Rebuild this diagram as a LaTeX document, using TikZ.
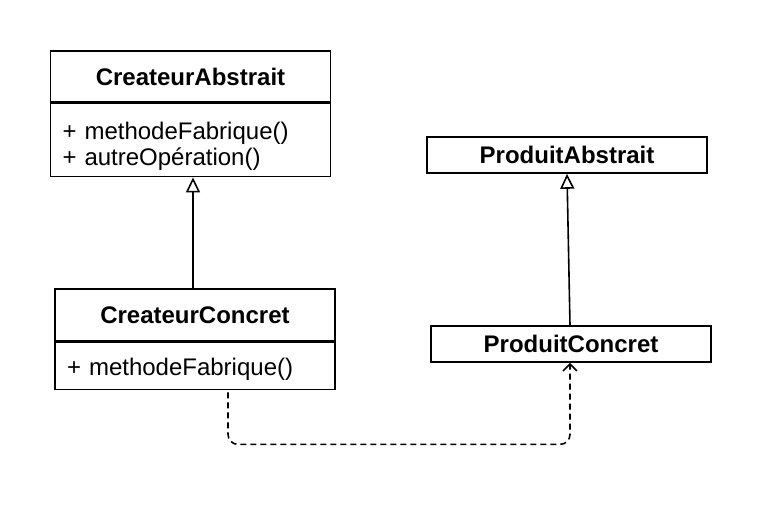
\documentclass[tikz,border=0pt]{standalone}
\usepackage{fontspec}
\setmainfont{Liberation Sans}
\usetikzlibrary{arrows.meta, positioning}
\newcommand{\lift}[1]{\rule{0pt}{#1}}

\begin{document}
\begin{tikzpicture}[x=1pt, y=-1pt,
    font=\fontsize{24}{26}\selectfont,
    every node/.style={line width=1.6pt},
    title/.style={draw, fill=white, minimum width=280pt, inner sep=0pt,
                  font=\fontsize{24}{26}\selectfont\bfseries},
    members/.style={draw, fill=white, minimum width=280pt, inner sep=0pt,
                    text width=256pt, align=left},
    inherit/.style={-{Triangle[open, length=15pt, width=14pt]}, line width=1.6pt},
    depend/.style={-{Straight Barb[length=7pt, width=14pt]}, line width=1.6pt,
                   dash pattern=on 6pt off 4pt, rounded corners=10pt}]
  \useasboundingbox (0,0) rectangle (762,512);
  % createurs
  \node[title, minimum height=51pt] (ca) at (190.5,76.5) {CreateurAbstrait};
  \node[members, minimum height=73pt, below=0pt of ca] (cam)
    {\lift{30pt}+ methodeFabrique()\\+ autreOpération()};
  \node[title, minimum height=52pt] (cc) at (195,315) {CreateurConcret};
  \node[members, minimum height=47pt, below=0pt of cc] (ccm)
    {\lift{24pt}+ methodeFabrique()};
  % produits
  \node[title, minimum height=36pt] (pa) at (567,155) {ProduitAbstrait};
  \node[title, minimum height=36pt] (pc) at (571,344) {ProduitConcret};
  % liens
  \draw[inherit] ([xshift=-2pt]cc.north) -- ([xshift=2.5pt]cam.south);
  \draw[inherit] ([xshift=-1pt]pc.north) -- (pa.south);
  \draw[depend] ([xshift=33pt,yshift=-2pt]ccm.south) -- ++(0,52)
    -| ([xshift=-1pt]pc.south);
\end{tikzpicture}
\end{document}
